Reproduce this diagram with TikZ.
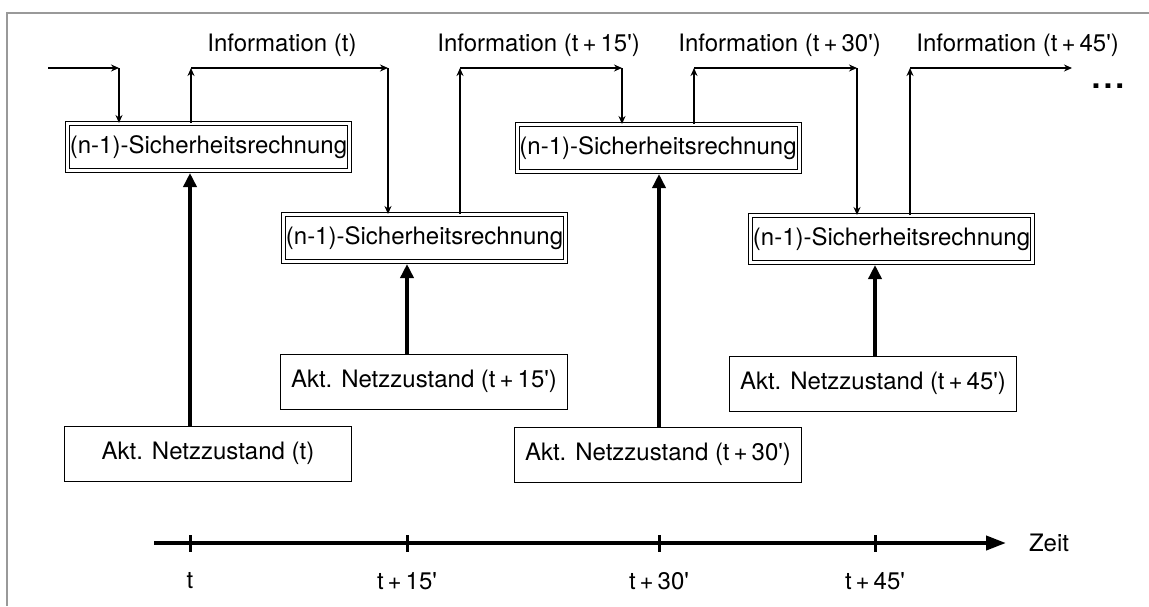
\documentclass[tikz,border=0pt]{standalone}
\usepackage{fontspec}
\setmainfont{TeX Gyre Heros}
\usetikzlibrary{arrows.meta}
\newcommand{\mn}{\textquotesingle}

\begin{document}
\begin{tikzpicture}[x=0.5pt,y=-0.5pt,
	font=\fontsize{12}{14}\selectfont,
	rechnung/.style={draw,double,double distance=1.5pt,line width=0.5pt,
		minimum width=141pt,minimum height=23.5pt,inner sep=0pt},
	zustand/.style={draw,line width=0.5pt,minimum width=143.5pt,
		minimum height=27.5pt,inner sep=0pt},
	fluss/.style={line width=0.8pt,-{Stealth[length=4pt,width=3.5pt]}},
	zufluss/.style={line width=2pt,shorten >=1pt,-{Triangle[length=7pt,width=6.5pt]}}]
	\useasboundingbox (0,0) rectangle (1149,606);
	\draw[gray!80,line width=0.8pt] (1149,13)--(7,13)--(7,606);

	\node[rechnung] (s1) at (208.5,147) {(n-1)-Sicherheitsrechnung};
	\node[rechnung] (s2) at (424.5,238) {(n-1)-Sicherheitsrechnung};
	\node[rechnung] (s3) at (658,148) {(n-1)-Sicherheitsrechnung};
	\node[rechnung] (s4) at (891.5,239) {(n-1)-Sicherheitsrechnung};

	\node[zustand] (a1) at (208,453.5) {Akt. Netzzustand (t)};
	\node[zustand] (a2) at (424,381.5) {Akt. Netzzustand (t\,+\,15\mn)};
	\node[zustand] (a3) at (658,454.5) {Akt. Netzzustand (t\,+\,30\mn)};
	\node[zustand] (a4) at (873,383.5) {Akt. Netzzustand (t\,+\,45\mn)};

	% Informationsfluss
	\coordinate (e0) at (48,68);
	\coordinate (k0) at (119,68);
	\draw[fluss] (e0) -- (k0);
	\draw[fluss] (k0) -- (k0 |- s1.north);
	\foreach \a/\b/\s/\n/\lx/\l in {191/388/s1/s2/207/t, 460/622/s2/s3/437/t\,+\,15\mn,
		694/857/s3/s4/678/t\,+\,30\mn}{
		\coordinate (u\s) at (\a,68);
		\coordinate (d\s) at (\b,68);
		\draw[fluss] (u\s |- \s.north) -- (u\s);
		\draw[fluss] (u\s) -- (d\s);
		\draw[fluss] (d\s) -- (d\s |- \n.north);
		\node[anchor=west,inner sep=0pt] (i\s) at (\lx,45) {Information (\l)};
	}
	\coordinate (us4) at (910,68);
	\coordinate (e4) at (1072,68);
	\draw[fluss] (us4 |- s4.north) -- (us4);
	\draw[fluss] (us4) -- (e4);
	\node[anchor=west,inner sep=0pt] (is4) at (916,45) {Information (t\,+\,45\mn)};
	\node[inner sep=0pt] (dots) at (1108,86)
		{\fontsize{16}{16}\selectfont\bfseries .\kern1.5pt.\kern1.5pt.};

	% Zeitachse
	\coordinate (z0) at (154,543);
	\coordinate (z1) at (1006,543);
	\draw[line width=2pt,-{Triangle[length=10pt,width=7pt]}] (z0) -- (z1);
	\node[anchor=west] (zeit) at (1022,543) {Zeit};
	\foreach \x/\l [count=\i] in {190/t,407/t\,+\,15\mn,659/t\,+\,30\mn,875/t\,+\,45\mn}{
		\coordinate (t\i) at (\x,543);
		\draw[line width=1.5pt] (\x,535)--(\x,552);
		\node (l\i) at (\x,581) {\l};
	}

	\foreach \i in {1,...,4}
		\draw[zufluss] (a\i.north -| t\i) -- (s\i.south -| t\i);
\end{tikzpicture}
\end{document}
